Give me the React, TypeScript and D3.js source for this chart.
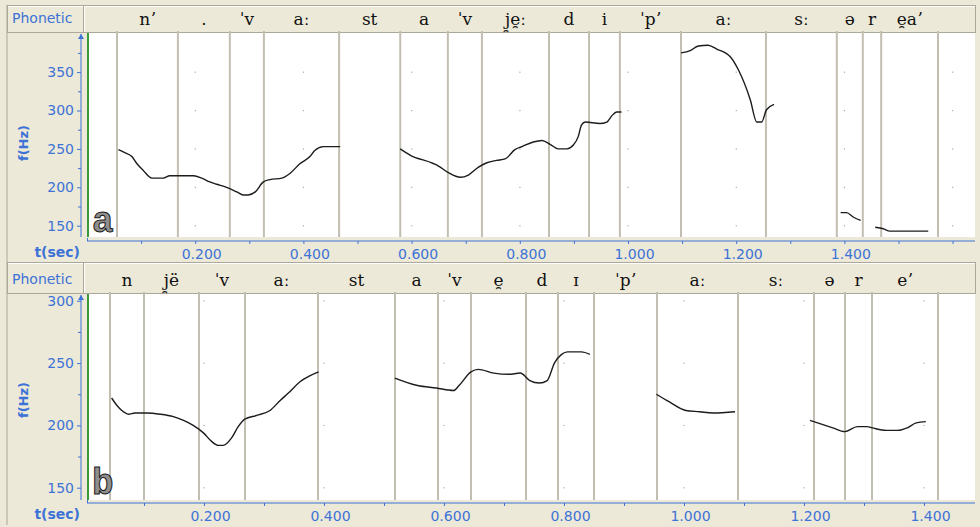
import React, {useEffect, useRef} from "react"
import * as d3 from "d3"

const W = 980
const H = 527

// segment boundaries (s) and phonetic labels for recording a
const boundsA = [0.0555, 0.168, 0.264, 0.327, 0.466, 0.579, 0.667, 0.730, 0.854, 0.928, 0.985, 1.098, 1.255, 1.386, 1.434, 1.468, 1.573]
const labelsA = ["nʼ", ".", "ˈv", "aː", "st", "a", "ˈv", "j̯e̯ː", "d", "i", "ˈpʼ", "aː", "sː", "ə", "r", "e̯aʼ"]

// recording b
const boundsB = [0.0433, 0.100, 0.1917, 0.2683, 0.390, 0.5183, 0.590, 0.645, 0.7367, 0.790, 0.850, 0.955, 1.090, 1.2167, 1.2683, 1.3133, 1.4233]
const labelsB = ["n", "j̯ë", "ˈv", "aː", "st", "a", "ˈv", "e̯", "d", "ɪ", "ˈpʼ", "aː", "sː", "ə", "r", "eʼ"]

// f0 contours [t (s), f (Hz)]
const pitchA1: [number, number][] = [[0.058, 249], [0.067, 246], [0.083, 240], [0.092, 231], [0.104, 222], [0.120, 212], [0.141, 212], [0.153, 215], [0.197, 215], [0.212, 212], [0.227, 207], [0.240, 204], [0.258, 200], [0.277, 194], [0.289, 190], [0.298, 190], [0.311, 194], [0.326, 207], [0.338, 210], [0.360, 212], [0.375, 218], [0.394, 231], [0.412, 240], [0.421, 248], [0.437, 253], [0.468, 253]]
const pitchA2: [number, number][] = [[0.579, 250], [0.597, 242], [0.640, 231], [0.649, 228], [0.668, 219], [0.690, 213], [0.705, 216], [0.723, 226], [0.739, 232], [0.757, 235], [0.773, 237], [0.791, 249], [0.804, 253], [0.825, 259], [0.841, 261], [0.856, 256], [0.871, 250], [0.887, 250], [0.899, 255], [0.908, 266], [0.914, 281], [0.921, 285], [0.948, 283], [0.961, 285], [0.970, 293], [0.979, 298], [0.988, 298]]
const pitchA3: [number, number][] = [[1.098, 375], [1.115, 378], [1.130, 384], [1.148, 385], [1.164, 380], [1.189, 370], [1.204, 353], [1.226, 314], [1.238, 285], [1.247, 285], [1.256, 301], [1.270, 308]]
const pitchA4: [number, number][] = [[1.393, 167], [1.404, 167], [1.417, 161], [1.430, 157]]
const pitchA5: [number, number][] = [[1.457, 148], [1.472, 146], [1.484, 143], [1.555, 143]]

const pitchB1: [number, number][] = [[0.046, 222], [0.055, 216], [0.063, 212], [0.074, 209], [0.085, 210], [0.105, 210], [0.127, 209], [0.149, 207], [0.166, 204], [0.182, 200], [0.199, 194], [0.213, 187], [0.224, 184], [0.232, 184], [0.246, 190], [0.257, 199], [0.268, 205], [0.288, 208], [0.310, 212], [0.327, 220], [0.343, 227], [0.360, 235], [0.377, 240], [0.391, 243]]
const pitchB2: [number, number][] = [[0.518, 238], [0.556, 232], [0.587, 230], [0.616, 228], [0.625, 232], [0.645, 243], [0.657, 245], [0.683, 242], [0.708, 241], [0.727, 242], [0.743, 236], [0.759, 234], [0.772, 236], [0.784, 250], [0.796, 257], [0.806, 259], [0.829, 259], [0.843, 257]]
const pitchB3: [number, number][] = [[0.954, 225], [0.975, 219], [1.003, 212], [1.026, 211], [1.048, 210], [1.085, 211]]
const pitchB4: [number, number][] = [[1.210, 204], [1.229, 201], [1.248, 198], [1.268, 195], [1.289, 199], [1.305, 199], [1.314, 198], [1.337, 196], [1.356, 196], [1.372, 198], [1.387, 202], [1.403, 203]]

const yMajorA = [150, 200, 250, 300, 350]
const yMinorA = [175, 225, 275, 325, 375]
const yMajorB = [150, 200, 250, 300]
const yMinorB = [175, 225, 275]

const BG = "#ece9d8"
const BLUE = "#3d72d6"
const BORDER = "#aca899"
const SEG = "#c2beb2"

const panels = [
    {
        letter: "a", bounds: boundsA, labels: labelsA, pitch: [pitchA1, pitchA2, pitchA3, pitchA4, pitchA5],
        yMajor: yMajorA, yMinor: yMinorA, yDomain: [150, 350], yRange: [225.7, 72.1],
        x0: 87, pps: 541, boxTop: 5, tierBottom: 32, plotTop: 33, plotBottom: 237, axisY: 241,
        fLabelY: 143, letterY: 232,
    },
    {
        letter: "b", bounds: boundsB, labels: labelsB, pitch: [pitchB1, pitchB2, pitchB3, pitchB4],
        yMajor: yMajorB, yMinor: yMinorB, yDomain: [150, 300], yRange: [487.7, 300.8],
        x0: 84, pps: 600, boxTop: 262, tierBottom: 293, plotTop: 294, plotBottom: 500, axisY: 503,
        fLabelY: 400, letterY: 494,
    },
]

const RIGHT = 975
const AXIS_X = 81

const App = () => {
    const ref = useRef(null)

    useEffect(() => {
        const svg = d3.select(ref.current)
        svg.selectAll("*").remove()

        svg.append("rect").attr("width", W).attr("height", H).attr("fill", BG)

        panels.forEach(p => {
            const x = d3.scaleLinear().domain([0, (RIGHT - p.x0) / p.pps]).range([p.x0, RIGHT])
            const y = d3.scaleLinear().domain(p.yDomain).range(p.yRange)
            const g = svg.append("g")

            // outer box of the panel
            g.append("line").attr("x1", 7).attr("x2", 7).attr("y1", p.boxTop).attr("y2", p.axisY + 22)
                .attr("stroke", BORDER)
            // phonetic tier row
            g.append("rect").attr("x", 7.5).attr("y", p.boxTop + 0.5)
                .attr("width", RIGHT - 7).attr("height", p.tierBottom - p.boxTop)
                .attr("fill", BG).attr("stroke", BORDER)
            g.append("line").attr("x1", 8).attr("x2", RIGHT).attr("y1", p.boxTop + 1.5).attr("y2", p.boxTop + 1.5)
                .attr("stroke", "#fff")
            g.append("line").attr("x1", 83.5).attr("x2", 83.5).attr("y1", p.boxTop).attr("y2", p.tierBottom)
                .attr("stroke", BORDER)
            g.append("line").attr("x1", 84.5).attr("x2", 84.5).attr("y1", p.boxTop + 1).attr("y2", p.tierBottom)
                .attr("stroke", "#fff")
            g.append("text").attr("x", 12).attr("y", p.tierBottom - 9)
                .attr("font-family", "DejaVu Sans").attr("font-size", 14).attr("fill", BLUE)
                .text("Phonetic")

            // plot area
            g.append("rect").attr("x", 88).attr("y", p.plotTop).attr("width", RIGHT - 88)
                .attr("height", p.plotBottom - p.plotTop).attr("fill", "#fff")

            // grid dots
            const tGrid = d3.range(2, 17, 2).map(i => i / 10).filter(t => x(t) < RIGHT - 2)
            const fGrid = p.yMajor.filter(f => y(f) > p.plotTop + 2 && y(f) < p.plotBottom - 2)
            const dots: [number, number][] = []
            tGrid.forEach(t => fGrid.forEach(f => dots.push([t, f])))
            g.selectAll("rect.dot").data(dots).join("rect").attr("class", "dot")
                .attr("x", d => x(d[0]) - 0.5).attr("y", d => y(d[1]) - 0.5)
                .attr("width", 1.2).attr("height", 1.2).attr("fill", "#a8a8a8")

            // segment boundaries
            g.selectAll("line.seg").data(p.bounds).join("line").attr("class", "seg")
                .attr("x1", d => x(d)).attr("x2", d => x(d))
                .attr("y1", p.tierBottom - 1).attr("y2", p.plotBottom)
                .attr("stroke", SEG).attr("stroke-width", 2)

            // tier labels centred in each segment
            g.selectAll("text.ph").data(p.labels).join("text").attr("class", "ph")
                .attr("x", (d, i) => (x(p.bounds[i]) + x(p.bounds[i + 1])) / 2)
                .attr("y", p.tierBottom - 7)
                .attr("text-anchor", "middle")
                .attr("font-family", "DejaVu Serif").attr("font-size", 17).attr("fill", "#111")
                .text(d => d)

            // green cursor line
            g.append("line").attr("x1", 88).attr("x2", 88).attr("y1", p.plotTop).attr("y2", p.plotBottom)
                .attr("stroke", "#3a9a3a").attr("stroke-width", 2)

            // pitch contours
            const line = d3.line<[number, number]>().x(d => x(d[0])).y(d => y(d[1])).curve(d3.curveMonotoneX)
            g.selectAll("path.f0").data(p.pitch).join("path").attr("class", "f0")
                .attr("d", d => line(d)).attr("fill", "none")
                .attr("stroke", "#1c1c1c").attr("stroke-width", 1.4)

            // y axis
            g.append("line").attr("x1", AXIS_X).attr("x2", AXIS_X).attr("y1", p.plotTop + 1).attr("y2", p.plotBottom)
                .attr("stroke", BLUE)
            g.append("path")
                .attr("d", `M${AXIS_X - 3},${p.plotTop + 6}L${AXIS_X},${p.plotTop + 1}L${AXIS_X + 3},${p.plotTop + 6}Z`)
                .attr("fill", BLUE)
            const yAxis = g.append("g").attr("transform", `translate(${AXIS_X},0)`)
                .call(d3.axisLeft(y).tickValues(p.yMajor).tickSize(4).tickPadding(3).tickFormat(d3.format("d")))
            yAxis.select(".domain").remove()
            yAxis.selectAll("line").attr("stroke", BLUE)
            yAxis.selectAll("text").attr("fill", BLUE).attr("font-family", "DejaVu Sans").attr("font-size", 14)
            const yMinor = g.append("g").attr("transform", `translate(${AXIS_X},0)`)
                .call(d3.axisLeft(y).tickValues(p.yMinor).tickSize(3).tickFormat(() => ""))
            yMinor.select(".domain").remove()
            yMinor.selectAll("line").attr("stroke", BLUE)

            g.append("text")
                .attr("transform", `translate(28,${p.fLabelY}) rotate(-90)`)
                .attr("text-anchor", "middle")
                .attr("font-family", "DejaVu Sans").attr("font-weight", "bold").attr("font-size", 13)
                .attr("fill", BLUE).text("f(Hz)")

            // x axis
            g.append("line").attr("x1", 87).attr("x2", RIGHT).attr("y1", p.axisY).attr("y2", p.axisY)
                .attr("stroke", BLUE)
            g.append("line").attr("x1", 87.5).attr("x2", 87.5).attr("y1", p.axisY - 3).attr("y2", p.axisY)
                .attr("stroke", BLUE)
            const tTicks = d3.range(1, 17).map(i => i / 10).filter(t => x(t) < RIGHT)
            const xAxis = g.append("g").attr("transform", `translate(0,${p.axisY})`)
                .call(d3.axisBottom(x).tickValues(tTicks).tickSize(3).tickPadding(5)
                    .tickFormat(d => {
                        const k = Math.round(+d * 10)
                        return k % 2 === 0 && k <= 14 ? d3.format(".3f")(+d) : ""
                    }))
            xAxis.select(".domain").remove()
            xAxis.selectAll("line").attr("stroke", BLUE)
            xAxis.selectAll("text").attr("fill", BLUE).attr("dx", 6)
                .attr("font-family", "DejaVu Sans").attr("font-size", 14)

            g.append("text").attr("x", 80).attr("y", p.axisY + 16).attr("text-anchor", "end")
                .attr("font-family", "DejaVu Sans").attr("font-weight", "bold").attr("font-size", 14)
                .attr("fill", BLUE).text("t(sec)")

            // panel letter
            g.append("text").attr("x", 92).attr("y", p.letterY)
                .attr("font-family", "Liberation Mono").attr("font-weight", "bold").attr("font-size", 36)
                .attr("fill", "#8e8e8e").attr("stroke", "#1a1a1a").attr("stroke-width", 1)
                .text(p.letter)
        })
    })

    return (
        <svg ref={ref} width={W} height={H} viewBox={`0 0 ${W} ${H}`}
             style={{position: "absolute", left: 0, top: 0}}/>
    )
}

export default App
